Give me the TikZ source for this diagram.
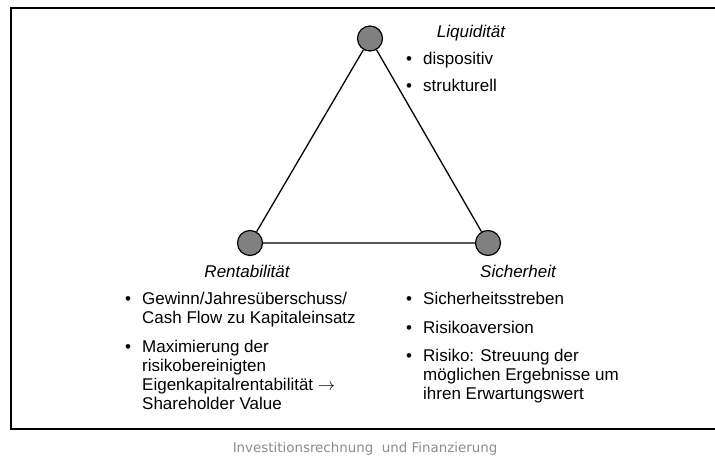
\documentclass[tikz,border=0pt]{standalone}
\usepackage{fontspec}
\usepackage{xcolor}
\usepackage{tikz}
\usetikzlibrary{positioning}
\setmainfont{Liberation Sans}
\newfontfamily\footfont{DejaVu Sans}
\definecolor{kreisgrau}{HTML}{808080}
\definecolor{fussgrau}{HTML}{8C8C8C}
\tikzset{
  rahmen/.style={black, line width=1.8pt},
  kante/.style={black, line width=1.3pt},
  ecke/.style={circle, draw=black, fill=kreisgrau, line width=1.2pt, minimum size=25pt, inner sep=0pt},
  titel/.style={font=\itshape\fontsize{17}{19}\selectfont, anchor=base, inner sep=0pt},
  punkt/.style={font=\fontsize{17}{19}\selectfont, anchor=base west, inner sep=0pt},
  fuss/.style={font=\footfont\fontsize{13.4}{15}\selectfont, text=fussgrau, anchor=base, inner sep=0pt}
}
\begin{document}
\begin{tikzpicture}[x=1pt, y=-1pt]
  \useasboundingbox (0,0) rectangle (715,457);
  \draw[rahmen] (715,8) -- (11,8) -- (11,429) -- (715,429);
  % Dreieck
  \node[ecke] (liq) at (370,38.5) {};
  \node[ecke] (ren) at (250,243) {};
  \node[ecke] (sic) at (488,243) {};
  \draw[kante] (liq) -- (ren) -- (sic) -- (liq);
  % Liquiditaet
  \node[titel] (tliq) at (471,38) {Liquidität};
  \node[punkt] (b1) at (406,65) {•};
  \node[punkt] (q1) at (423,65) {dispositiv};
  \node[punkt] (b2) at (406,92) {•};
  \node[punkt] (q2) at (423,92) {strukturell};
  % Rentabilitaet
  \node[titel] (tren) at (247,277) {Rentabilität};
  \node[punkt] (b3) at (125,304) {•};
  \node[punkt] (r1) at (142,304) {\begin{tabular}[t]{@{}l@{}}Gewinn/Jahresüberschuss/\\Cash Flow zu Kapitaleinsatz\end{tabular}};
  \node[punkt] (b4) at (125,352) {•};
  \node[punkt] (r2) at (142,352) {\begin{tabular}[t]{@{}l@{}}Maximierung der\\risikobereinigten\\Eigenkapitalrentabilität $\rightarrow$\\Shareholder Value\end{tabular}};
  % Sicherheit
  \node[titel] (tsic) at (518,277) {Sicherheit};
  \node[punkt] (b5) at (406,305) {•};
  \node[punkt] (s1) at (423,305) {Sicherheitsstreben};
  \node[punkt] (b6) at (406,333) {•};
  \node[punkt] (s2) at (423,333) {Risikoaversion};
  \node[punkt] (b7) at (406,361) {•};
  \node[punkt] (s3) at (423,361) {\begin{tabular}[t]{@{}l@{}}Risiko: Streuung der\\möglichen Ergebnisse um\\ihren Erwartungswert\end{tabular}};
  % Fusszeile
  \node[fuss] (fz) at (365,452) {Investitionsrechnung\ \ und Finanzierung};
\end{tikzpicture}
\end{document}
